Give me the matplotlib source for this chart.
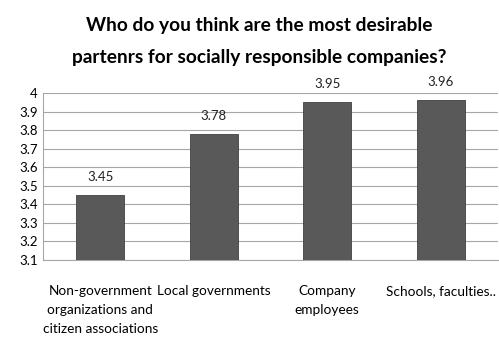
import matplotlib.pyplot as plt

categories = ["Non-government\norganizations and\ncitizen associations",
              "Local governments",
              "Company\nemployees",
              "Schools, faculties.."]
values = [3.45, 3.78, 3.95, 3.96]
yticks = [3.1, 3.2, 3.3, 3.4, 3.5, 3.6, 3.7, 3.8, 3.9, 4.0]
ytick_labels = ["3.1", "3.2", "3.3", "3.4", "3.5", "3.6", "3.7", "3.8", "3.9", "4"]
title_lines = ["Who do you think are the most desirable",
               "partenrs for socially responsible companies?"]

plt.rcParams['font.family'] = ['Lato', 'DejaVu Sans']

fig = plt.figure(figsize=(4.99, 3.43), dpi=100)
ax = fig.add_axes([0.087, 0.242, 0.91, 0.487])

x = range(len(categories))
ax.bar(x, values, width=0.42, color="#595959", edgecolor="#404040", linewidth=0.6, zorder=3)
for xi, v in zip(x, values):
    ax.text(xi, v + 0.065, f"{v:.2f}", ha="center", va="bottom", fontsize=9.5, color="#222222")

ax.set_xlim(-0.5, len(categories) - 0.5)
ax.set_ylim(3.1, 4.0)
ax.set_yticks(yticks)
ax.set_yticklabels(ytick_labels, fontsize=9.5)
ax.set_xticks(list(x))
ax.set_xticklabels(categories, fontsize=9.8, linespacing=1.7)
ax.tick_params(axis="both", length=0, pad=4)
ax.tick_params(axis="x", pad=18)
ax.yaxis.grid(True, color="#a6a6a6", linewidth=0.8, zorder=0)
for side in ["top", "right"]:
    ax.spines[side].set_visible(False)
ax.spines["left"].set_color("#a6a6a6")
ax.spines["bottom"].set_color("#a6a6a6")

fig.text(0.519, 1 - 25 / 343, title_lines[0], ha="center", va="center",
         fontsize=13.8, fontweight="bold")
fig.text(0.519, 1 - 57 / 343, title_lines[1], ha="center", va="center",
         fontsize=13.8, fontweight="bold")

fig.savefig("out.png", dpi=100)
